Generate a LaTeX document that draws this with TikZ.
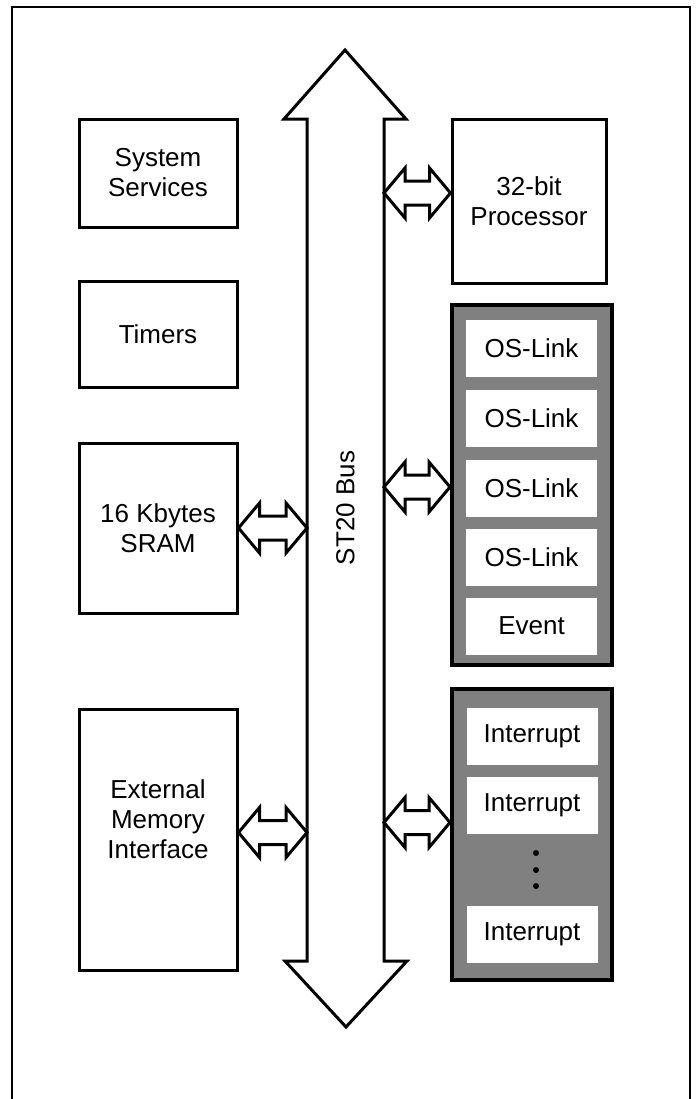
\documentclass[tikz,border=0pt]{standalone}
\usepackage{fontspec}
\setmainfont{Liberation Sans}
\usetikzlibrary{calc}

\tikzset{
  bloque/.style={draw, line width=1.5pt, fill=white, align=center, inner sep=0pt},
  grupo/.style={draw, line width=2pt, fill=black!50, inner sep=0pt, minimum width=80pt},
  celda/.style={fill=white, minimum width=65.5pt, minimum height=28.5pt, inner sep=0pt},
  flecha/.style={draw, line width=1.5pt, fill=white, line join=miter},
}
% flecha doble entre dos puntos a la misma altura
\newcommand\flechadoble[2]{%
  \draw[flecha] (#1) -- ++(21,-25) -- ++(0,13) -- ($(#2)+(-21,-12)$) -- ++(0,-13) -- (#2)
    -- ++(-21,25) -- ++(0,-13) -- ($(#1)+(21,12)$) -- ++(0,13) -- cycle;}

\begin{document}
\begin{tikzpicture}[x=0.5pt, y=-0.5pt, font=\fontsize{13}{15}\selectfont]
    \useasboundingbox (0,0) rectangle (696,1099);
    % Marco
    \draw[line width=1pt] (12,1099) -- (12,7) -- (690,7) -- (690,1099);
    % Bus
    \draw[flecha] (345,50) -- (406,119) -- (384,119) -- (384,961) -- (407,961) -- (346,1027)
      -- (285,961) -- (307,961) -- (307,119) -- (284,119) -- cycle;
    \node[rotate=90] (bus) at (345.5,508) {ST20 Bus};
    \coordinate (busL) at (307,0);
    \coordinate (busR) at (384,0);
    % Bloques de la izquierda
    \node[bloque, minimum width=79pt, minimum height=54pt] (sys) at (158,173) {System\\Services};
    \node[bloque, minimum width=79pt, minimum height=53pt] (tim) at (158,334) {Timers};
    \node[bloque, minimum width=79pt, minimum height=85pt] (sram) at (158,528) {16 Kbytes\\SRAM};
    \node[bloque, minimum width=79pt, minimum height=130.5pt,
      label={[align=center, yshift=10pt]center:External\\Memory\\Interface}] (emi) at (158,839.5) {};
    % Procesador
    \node[bloque, minimum width=77pt, minimum height=82pt] (proc) at (529,201) {32-bit\\Processor};
    % OS-Links
    \node[grupo, minimum height=180pt] (links) at (532,485) {};
    \foreach \n/\y/\t in {1/348/OS-Link, 2/418/OS-Link, 3/488/OS-Link, 4/557/OS-Link, 5/626/Event}
      \node[celda] (os\n) at (531.5,\y) {\t};
    % Interrupciones
    \node[grupo, minimum height=145.5pt] (ints) at (532,834.5) {};
    \foreach \n/\y in {1/736.5, 2/805.5, 3/934}
      \node[celda] (int\n) at (532,\y) {Interrupt};
    \foreach \y in {853,870,886}
      \fill (536,\y) circle (1.5pt);
    % Flechas
    \coordinate (pB) at ($(proc.west)+(0,-8)$);
    \coordinate (pA) at (pB -| busR);
    \coordinate (lB) at ($(links.west)+(0,2)$);
    \coordinate (lA) at (lB -| busR);
    \coordinate (iB) at ($(ints.west)+(0,-12)$);
    \coordinate (iA) at (iB -| busR);
    \coordinate (sA) at (sram.east);
    \coordinate (sB) at (sA -| busL);
    \coordinate (eA) at ($(emi.east)+(0,-7)$);
    \coordinate (eB) at (eA -| busL);
    \flechadoble{pA}{pB}
    \flechadoble{lA}{lB}
    \flechadoble{iA}{iB}
    \flechadoble{sA}{sB}
    \flechadoble{eA}{eB}
\end{tikzpicture}
\end{document}
